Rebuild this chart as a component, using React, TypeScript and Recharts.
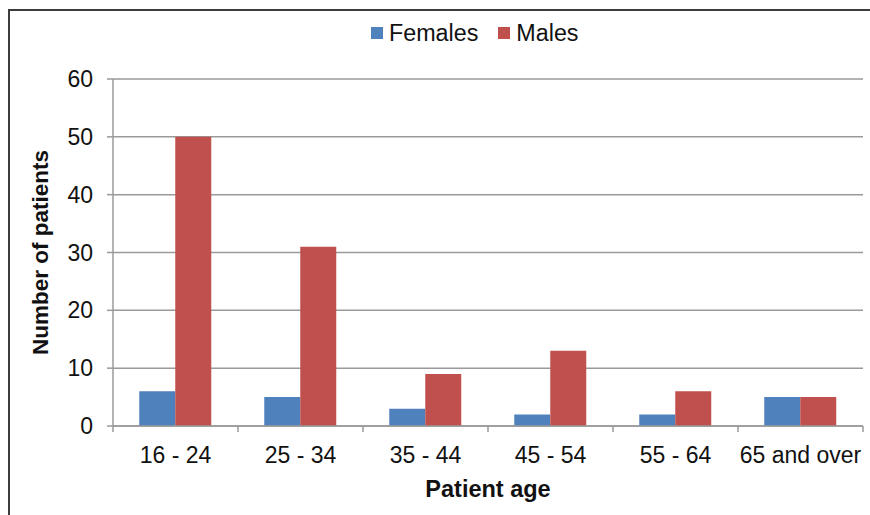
import React from 'react';
import { BarChart, Bar, XAxis, YAxis, CartesianGrid, Legend } from 'recharts';

const categories = ['16 - 24', '25 - 34', '35 - 44', '45 - 54', '55 - 64', '65 and over'];
const females = [6, 5, 3, 2, 2, 5];
const males = [50, 31, 9, 13, 6, 5];
const yTicks = [0, 10, 20, 30, 40, 50, 60];

const data = categories.map((c, i) => ({ age: c, Females: females[i], Males: males[i] }));

const FONT = '"Liberation Sans", Arial, sans-serif';
const GRID = '#9a9a9a';
const BLUE = '#4F81BD';
const RED = '#C0504D';

const XTick = (props: any) => {
  const { x, y, payload, index, visibleTicksCount } = props;
  const half = payload && payload.offset ? payload.offset : 62.5;
  const last = index === (visibleTicksCount ?? categories.length) - 1;
  return (
    <g>
      <line x1={x - half} x2={x - half} y1={y} y2={y + 6} stroke={GRID} strokeWidth={1.5} />
      {last && <line x1={x + half} x2={x + half} y1={y} y2={y + 6} stroke={GRID} strokeWidth={1.5} />}
      <text x={x} y={y + 37} textAnchor="middle" fontFamily={FONT} fontSize={23} fill="#111">
        {payload.value}
      </text>
    </g>
  );
};

const renderLegend = (props: any) => (
  <div style={{ display: 'flex', alignItems: 'center', fontFamily: FONT, fontSize: 23.3, color: '#111', lineHeight: '26px' }}>
    {(props.payload || []).map((e: any, i: number) => (
      <div key={e.value} style={{ display: 'flex', alignItems: 'center', marginRight: i === 0 ? 20 : 0 }}>
        <span style={{ width: 12, height: 12, background: e.color, marginRight: 6, display: 'inline-block' }} />
        <span>{e.value}</span>
      </div>
    ))}
  </div>
);

export default function App() {
  return (
    <div style={{ position: 'relative', width: 870, height: 515, overflow: 'hidden', background: '#fff' }}>
      <style>{'body{margin:0}'}</style>
      <div
        style={{
          position: 'absolute',
          left: 8,
          top: 9,
          width: 1000,
          height: 1000,
          borderTop: '2px solid #3c3c3c',
          borderLeft: '2px solid #3c3c3c',
        }}
      />
      <div style={{ position: 'absolute', left: 0, top: 0 }}>
        <BarChart
          width={870}
          height={515}
          data={data}
          margin={{ top: 79, right: 7, bottom: 0, left: 0 }}
          barCategoryGap="21%"
          barGap={0}
        >
          <CartesianGrid vertical={false} stroke={GRID} strokeWidth={1.5} />
          <XAxis
            dataKey="age"
            height={89}
            tickSize={0}
            tickMargin={0}
            tickLine={false}
            axisLine={{ stroke: GRID, strokeWidth: 1.5 }}
            tick={<XTick />}
            interval={0}
            label={{
              content: (p: any) => {
                const vb = p.viewBox || {};
                return (
                  <text
                    x={vb.x + vb.width / 2}
                    y={vb.y + 71}
                    textAnchor="middle"
                    fontFamily={FONT}
                    fontSize={23.5}
                    fontWeight="bold"
                    fill="#111"
                  >
                    Patient age
                  </text>
                );
              },
            }}
          />
          <YAxis
            width={113}
            domain={[0, 60]}
            ticks={yTicks}
            interval={0}
            tickSize={6}
            tickMargin={14}
            tickLine={{ stroke: GRID, strokeWidth: 1.5 }}
            axisLine={{ stroke: GRID, strokeWidth: 1.5 }}
            tick={{ fontFamily: FONT, fontSize: 23, fill: '#111' }}
            label={{
              content: (p: any) => {
                const vb = p.viewBox || {};
                const cy = vb.y + vb.height / 2;
                return (
                  <text
                    x={40}
                    y={cy}
                    transform={`rotate(-90 40 ${cy})`}
                    textAnchor="middle"
                    dominantBaseline="central"
                    fontFamily={FONT}
                    fontSize={22.5}
                    fontWeight="bold"
                    fill="#111"
                  >
                    Number of patients
                  </text>
                );
              },
            }}
          />
          <Legend
            layout="horizontal"
            verticalAlign="middle"
            align="center"
            content={renderLegend}
            wrapperStyle={{ position: 'absolute', top: 20, left: 371, width: 'auto', height: 'auto' }}
          />
          <Bar dataKey="Females" fill={BLUE} isAnimationActive={false} />
          <Bar dataKey="Males" fill={RED} isAnimationActive={false} />
        </BarChart>
      </div>
    </div>
  );
}
